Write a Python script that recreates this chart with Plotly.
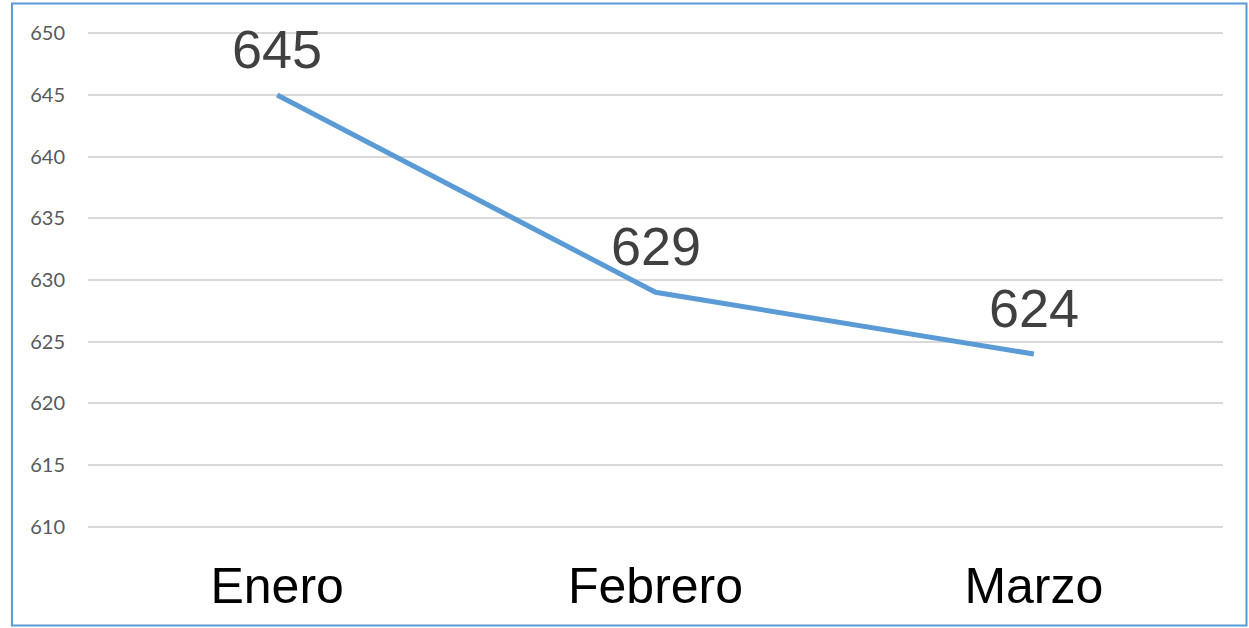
import plotly.graph_objects as go

meses = ['Enero', 'Febrero', 'Marzo']
valores = [645, 629, 624]
y_ticks = [610, 615, 620, 625, 630, 635, 640, 645, 650]

fig = go.Figure()

fig.add_trace(
    go.Scatter(
        x=meses,
        y=valores,
        mode='lines',
        line=dict(color='#5B9BD5', width=5),
        hoverinfo='x+y',
        showlegend=False,
    )
)

# etiquetas de datos encima de cada punto
for m, v in zip(meses, valores):
    fig.add_annotation(
        x=m, y=v, text=str(v), showarrow=False, yshift=46,
        font=dict(family='Liberation Sans, Arial', size=54, color='#404040'),
    )

# borde azul alrededor del gráfico
fig.add_shape(
    type='rect', xref='paper', yref='paper',
    x0=-0.0670, x1=1.0207, y0=-0.1965, y1=1.0575,
    line=dict(color='#5B9BD5', width=2),
)

fig.update_layout(
    width=1249,
    height=628,
    paper_bgcolor='white',
    plot_bgcolor='white',
    margin=dict(l=88, r=26, t=32, b=100),
)

fig.update_xaxes(
    range=[-0.5, 2.5],
    showgrid=False,
    showline=False,
    zeroline=False,
    ticks='',
    ticklabelstandoff=24,
    tickfont=dict(family='Liberation Sans, Arial', size=50, color='black'),
)

fig.update_yaxes(
    range=[609.9, 650.1],
    tickvals=y_ticks,
    showgrid=True,
    gridcolor='#D9D9D9',
    gridwidth=1.5,
    zeroline=False,
    showline=False,
    ticks='',
    ticklabelstandoff=22,
    tickfont=dict(family='Lato, Calibri', size=20, color='#595959'),
)

# quitar el margen por defecto del body para que la figura ocupe toda la ventana
fig.write_html(
    'out.html',
    config={'displayModeBar': False},
    post_script="document.body.style.margin='0';",
)
